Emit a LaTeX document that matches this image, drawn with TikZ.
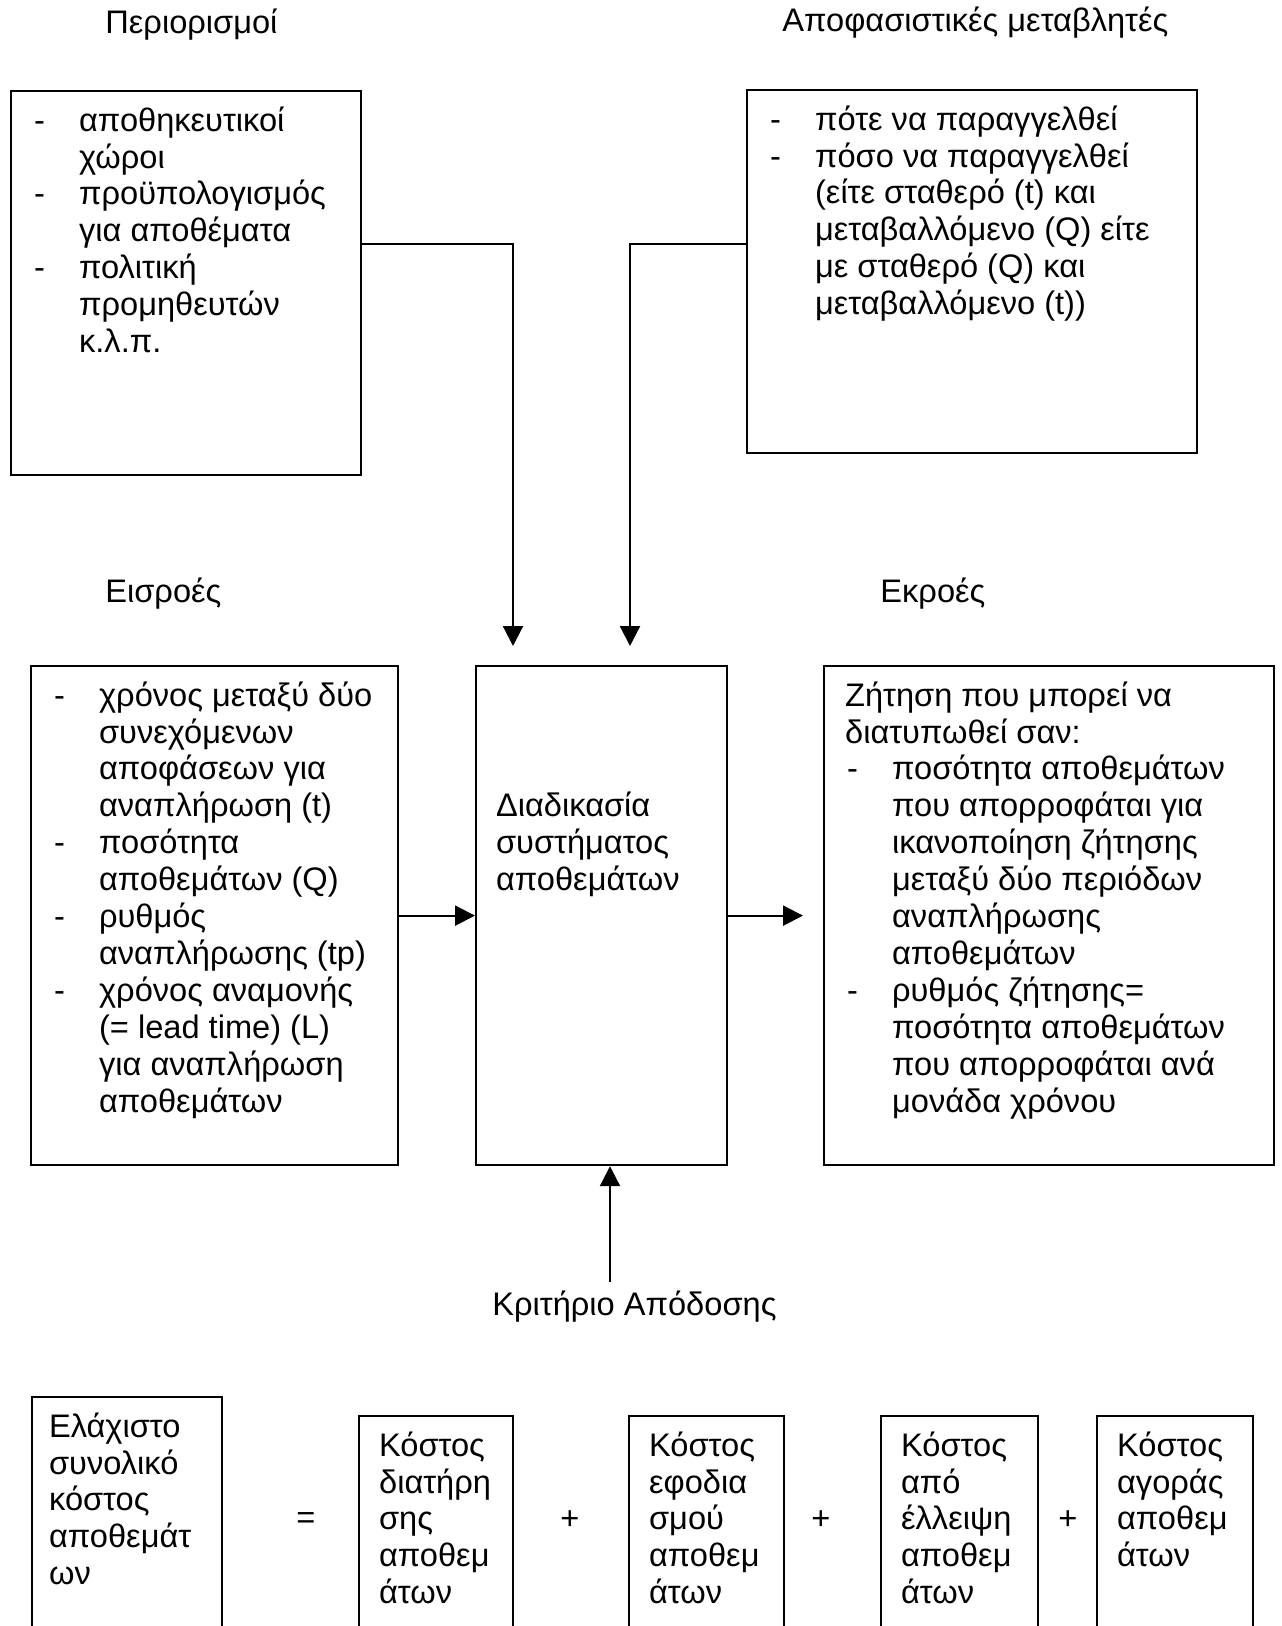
\documentclass[tikz,border=0pt]{standalone}
\usepackage{fontspec}
\setmainfont{Liberation Sans}
\usetikzlibrary{arrows.meta}
\newcommand{\boxfont}{\fontsize{16.3pt}{18.45pt}\selectfont}
\tikzset{
    plain-box/.style = {draw, line width=1.1pt, rectangle, inner sep=0pt, anchor=north west, font=\boxfont},
    box-title/.style = {anchor=base west, inner sep=0pt, font=\boxfont},
    sign/.style = {inner sep=0pt, font=\boxfont},
    flow-arrow/.style = {line width=1.1pt, -{Triangle[length=10pt, width=10pt]}},
}

\begin{document}
\begin{tikzpicture}[x=0.5pt, y=-0.5pt]
\useasboundingbox (0,0) rectangle (1281,1626);

% titles
\node [box-title] (limits-title) at (105,34) {Περιορισμοί};
\node [box-title] (decisions-title) at (782,32) {Αποφασιστικές μεταβλητές};
\node [box-title] (inputs-title) at (105,602) {Εισροές};
\node [box-title] (outputs-title) at (880,602) {Εκροές};
\node [box-title] (criterion) at (492,1315) {Κριτήριο Απόδοσης};

% upper boxes
\node [plain-box] (limits) at (10,90) {\begin{minipage}[t][192pt][t]{175pt}\vspace*{7.1pt}
\begin{tabular}{@{\hspace{11.5pt}}p{22.5pt}@{}l@{}}
- & αποθηκευτικοί \\
  & χώροι \\
- & προϋπολογισμός \\
  & για αποθέματα \\
- & πολιτική \\
  & προμηθευτών \\
  & κ.λ.π.
\end{tabular}
\end{minipage}};

\node [plain-box] (decisions) at (746,89) {\begin{minipage}[t][181.5pt][t]{225pt}\vspace*{7.1pt}
\begin{tabular}{@{\hspace{11.5pt}}p{22.5pt}@{}l@{}}
- & πότε να παραγγελθεί \\
- & πόσο να παραγγελθεί \\
  & (είτε σταθερό (t) και \\
  & μεταβαλλόμενο (Q) είτε \\
  & με σταθερό (Q) και \\
  & μεταβαλλόμενο (t))
\end{tabular}
\end{minipage}};

% middle row
\node [plain-box] (inputs) at (30,665) {\begin{minipage}[t][249.5pt][t]{183.5pt}\vspace*{7.1pt}
\begin{tabular}{@{\hspace{11.5pt}}p{22.5pt}@{}l@{}}
- & χρόνος μεταξύ δύο \\
  & συνεχόμενων \\
  & αποφάσεων για \\
  & αναπλήρωση (t) \\
- & ποσότητα \\
  & αποθεμάτων (Q) \\
- & ρυθμός \\
  & αναπλήρωσης (tp) \\
- & χρόνος αναμονής \\
  & (= lead time) (L) \\
  & για αναπλήρωση \\
  & αποθεμάτων
\end{tabular}
\end{minipage}};

\node [plain-box] (process) at (475,665) {\begin{minipage}[t][249.5pt][t]{125.5pt}\vspace*{62.5pt}
\begin{tabular}{@{\hspace{10pt}}l@{}}
Διαδικασία \\
συστήματος \\
αποθεμάτων
\end{tabular}
\end{minipage}};

\node [plain-box] (outputs) at (823,665) {\begin{minipage}[t][249.5pt][t]{225pt}\vspace*{7.1pt}
\begin{tabular}{@{\hspace{11.5pt}}p{22.5pt}@{}l@{}}
\multicolumn{2}{@{\hspace{10.5pt}}l@{}}{Ζήτηση που μπορεί να} \\
\multicolumn{2}{@{\hspace{10.5pt}}l@{}}{διατυπωθεί σαν:} \\
- & ποσότητα αποθεμάτων \\
  & που απορροφάται για \\
  & ικανοποίηση ζήτησης \\
  & μεταξύ δύο περιόδων \\
  & αναπλήρωσης \\
  & αποθεμάτων \\
- & ρυθμός ζήτησης= \\
  & ποσότητα αποθεμάτων \\
  & που απορροφάται ανά \\
  & μονάδα χρόνου
\end{tabular}
\end{minipage}};

% cost equation
\node [plain-box] (min-cost) at (31,1396) {\begin{minipage}[t][115pt][t]{95pt}\vspace*{7.1pt}
\begin{tabular}{@{\hspace{8.5pt}}l@{}}
Ελάχιστο \\
συνολικό \\
κόστος \\
αποθεμάτ \\
ων
\end{tabular}
\end{minipage}};

\node [plain-box] (holding-cost) at (358,1415) {\begin{minipage}[t][105.5pt][t]{77pt}\vspace*{7.1pt}
\begin{tabular}{@{\hspace{10pt}}l@{}}
Κόστος \\
διατήρη \\
σης \\
αποθεμ \\
άτων
\end{tabular}
\end{minipage}};

\node [plain-box] (order-cost) at (628,1415) {\begin{minipage}[t][105.5pt][t]{77.5pt}\vspace*{7.1pt}
\begin{tabular}{@{\hspace{10pt}}l@{}}
Κόστος \\
εφοδια \\
σμού \\
αποθεμ \\
άτων
\end{tabular}
\end{minipage}};

\node [plain-box] (shortage-cost) at (880,1415) {\begin{minipage}[t][105.5pt][t]{78.5pt}\vspace*{7.1pt}
\begin{tabular}{@{\hspace{10pt}}l@{}}
Κόστος \\
από \\
έλλειψη \\
αποθεμ \\
άτων
\end{tabular}
\end{minipage}};

\node [plain-box] (purchase-cost) at (1096,1415) {\begin{minipage}[t][105.5pt][t]{78pt}\vspace*{7.1pt}
\begin{tabular}{@{\hspace{10pt}}l@{}}
Κόστος \\
αγοράς \\
αποθεμ \\
άτων
\end{tabular}
\end{minipage}};

\node [sign] (equals) at (306,1520) {=};
\node [sign] (plus-a) at (570,1520) {+};
\node [sign] (plus-b) at (821,1520) {+};
\node [sign] (plus-c) at (1068,1520) {+};

% connectors
\draw [flow-arrow, shorten >=9.5pt] (limits.east |- 0,244) -| (process.north -| 513,0);
\draw [flow-arrow, shorten >=9.5pt] (decisions.west |- 0,244) -| (process.north -| 630,0);
\draw [flow-arrow] (inputs.east) -- (process.west);
\draw [flow-arrow, shorten >=10pt] (process.east) -- (outputs.west);
\draw [flow-arrow, shorten <=4pt] (criterion.north -| 610,0) -- (process.south -| 610,0);
\end{tikzpicture}
\end{document}
